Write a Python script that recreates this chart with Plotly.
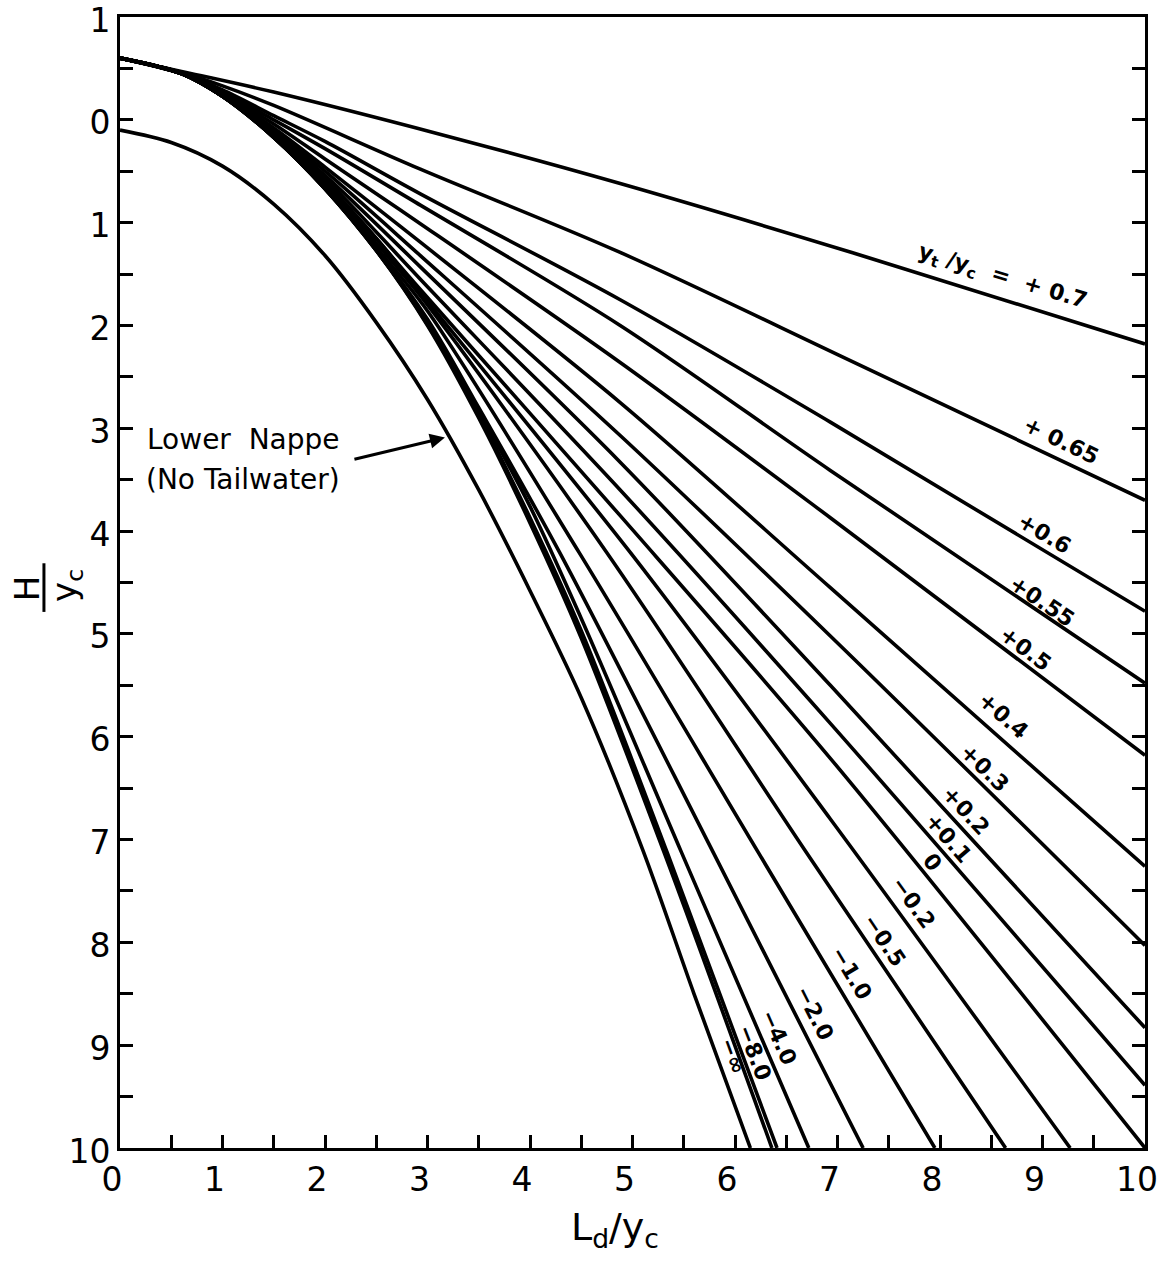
import plotly.graph_objects as go

# ---------------- data ----------------
# tailwater curves y_t/y_c (x = L_d/y_c, y = H/y_c, y axis downward)
x_p070 = [0, 0.6, 1.5, 3.12, 4.88, 7.14, 10]
y_p070 = [-0.6, -0.47, -0.27, 0.14, 0.62, 1.29, 2.18]

x_p065 = [0, 0.6, 1.0, 1.5, 2.93, 4.88, 7.12, 10]
y_p065 = [-0.6, -0.46, -0.33, -0.14, 0.48, 1.29, 2.34, 3.70]

x_mid = [0, 0.6, 1.0, 1.5, 2.0, 2.93, 4.88, 6.93, 10]
y_p060 = [-0.6, -0.45, -0.29, -0.04, 0.21, 0.72, 1.75, 2.94, 4.78]
y_p055 = [-0.6, -0.45, -0.27, 0.00, 0.28, 0.83, 2.00, 3.41, 5.48]
y_p050 = [-0.6, -0.45, -0.26, 0.04, 0.38, 1.01, 2.36, 3.87, 6.18]
y_p040 = [-0.6, -0.45, -0.25, 0.08, 0.46, 1.19, 2.75, 4.55, 7.26]
y_p030 = [-0.6, -0.45, -0.24, 0.10, 0.50, 1.32, 3.07, 5.02, 8.03]
y_p020 = [-0.6, -0.45, -0.24, 0.12, 0.54, 1.43, 3.33, 5.50, 8.83]
y_p010 = [-0.6, -0.45, -0.23, 0.13, 0.57, 1.55, 3.60, 5.87, 9.39]
y_000 = [-0.6, -0.45, -0.23, 0.14, 0.60, 1.65, 3.85, 6.21, 10.0]

x_m02 = [0, 0.6, 1.0, 1.5, 2.0, 2.5, 2.93, 4.98, 6.93, 9.27]
y_m02 = [-0.6, -0.45, -0.23, 0.15, 0.62, 1.15, 1.68, 4.21, 6.80, 10]

x_m05 = [0, 0.6, 1.0, 1.5, 2.0, 2.5, 2.93, 4.75, 6.70, 8.64]
y_m05 = [-0.6, -0.45, -0.23, 0.16, 0.64, 1.20, 1.71, 4.21, 7.13, 10]

x_m10 = [0, 0.6, 1.0, 1.5, 2.0, 2.5, 3.0, 4.48, 6.23, 7.95]
y_m10 = [-0.6, -0.45, -0.23, 0.17, 0.66, 1.24, 1.86, 4.21, 7.13, 10]

x_m20 = [0, 0.6, 1.0, 1.5, 2.0, 2.5, 3.0, 3.5, 4.29, 5.79, 7.25]
y_m20 = [-0.6, -0.45, -0.23, 0.17, 0.67, 1.26, 1.94, 2.80, 4.21, 7.13, 10]

x_m40 = [0, 0.6, 1.0, 1.5, 2.0, 2.5, 3.0, 3.5, 4.0, 4.5, 5.48, 6.72]
y_m40 = [-0.6, -0.45, -0.23, 0.17, 0.67, 1.27, 1.97, 2.83, 3.76, 4.85, 7.13, 10]

x_m80 = [0, 0.6, 1.0, 1.5, 2.0, 2.5, 3.0, 3.5, 4.0, 4.5, 5.34, 6.41]
y_m80 = [-0.6, -0.45, -0.23, 0.17, 0.67, 1.27, 1.99, 2.87, 3.87, 4.97, 7.13, 10]

x_minf = [0, 0.6, 1.0, 1.5, 2.0, 2.5, 3.0, 3.5, 4.0, 4.5, 5.31, 6.36]
y_minf = [-0.6, -0.45, -0.23, 0.17, 0.67, 1.27, 2.00, 2.90, 3.92, 5.04, 7.13, 10]

# lower nappe (no tailwater)
x_nappe = [0, 0.5, 1.0, 1.5, 2.0, 2.5, 3.0, 3.5, 4.0, 4.5, 5.1, 5.6, 6.15]
y_nappe = [0.10, 0.22, 0.45, 0.82, 1.32, 1.97, 2.72, 3.60, 4.58, 5.62, 7.10, 8.50, 10]

curves = [
    (x_p070, y_p070), (x_p065, y_p065),
    (x_mid, y_p060), (x_mid, y_p055), (x_mid, y_p050), (x_mid, y_p040),
    (x_mid, y_p030), (x_mid, y_p020), (x_mid, y_p010), (x_mid, y_000),
    (x_m02, y_m02), (x_m05, y_m05), (x_m10, y_m10), (x_m20, y_m20),
    (x_m40, y_m40), (x_m80, y_m80), (x_minf, y_minf), (x_nappe, y_nappe),
]

# curve labels: text, x, y, angle
curve_labels = [
    ("y<sub>t</sub> /y<sub>c</sub>  =  + 0.7", 8.61, 1.53, 17),
    ("+ 0.65", 9.18, 3.12, 26),
    ("+0.6", 9.02, 4.02, 31),
    ("+0.55", 9.00, 4.68, 34),
    ("+0.5", 8.83, 5.14, 37),
    ("+0.4", 8.62, 5.79, 41),
    ("+0.3", 8.43, 6.30, 44),
    ("+0.2", 8.25, 6.72, 47),
    ("+0.1", 8.08, 6.98, 49),
    ("0", 7.93, 7.22, 51),
    ("\u22120.2", 7.74, 7.61, 54),
    ("\u22120.5", 7.46, 7.98, 56),
    ("\u22121.0", 7.14, 8.30, 59),
    ("\u22122.0", 6.78, 8.69, 63),
    ("\u22124.0", 6.42, 8.92, 66),
    ("\u22128.0", 6.19, 9.07, 69),
    ("\u2212\u221e", 5.98, 9.11, 70),
]

x_tick_vals = [i * 0.5 for i in range(21)]
x_tick_text = [str(int(v)) if v == int(v) else "" for v in x_tick_vals]
y_tick_vals = [-1 + i * 0.5 for i in range(23)]
y_tick_text = [str(abs(int(v))) if v == int(v) else "" for v in y_tick_vals]

# ---------------- figure ----------------
FONT = "DejaVu Sans"
fig = go.Figure()
for xs, ys in curves:
    fig.add_trace(go.Scatter(x=xs, y=ys, mode="lines",
                             line=dict(color="black", width=3.6, shape="spline", smoothing=0.9),
                             showlegend=False, hoverinfo="skip"))

annotations = []
for txt, ax_, ay_, ang in curve_labels:
    annotations.append(dict(x=ax_, y=ay_, xref="x", yref="y", text=txt, showarrow=False,
                            xanchor="center", yanchor="middle", textangle=ang,
                            font=dict(family=FONT, size=22, color="black", weight="bold")))

# lower nappe text and arrow
annotations.append(dict(x=0.24, y=3.11, xref="x", yref="y", text="Lower\u00a0\u00a0Nappe",
                        showarrow=False, xanchor="left", yanchor="middle",
                        font=dict(family=FONT, size=28, color="black")))
annotations.append(dict(x=0.23, y=3.50, xref="x", yref="y", text="(No Tailwater)",
                        showarrow=False, xanchor="left", yanchor="middle",
                        font=dict(family=FONT, size=28, color="black")))
annotations.append(dict(x=3.17, y=3.09, xref="x", yref="y", text="", showarrow=True,
                        ax=-92, ay=22, arrowhead=2, arrowsize=1.0, arrowwidth=3,
                        arrowcolor="black", standoff=0))

# axis titles
annotations.append(dict(x=0.483, y=-0.072, xref="paper", yref="paper",
                        text="L<sub>d</sub>/y<sub>c</sub>", showarrow=False,
                        xanchor="center", yanchor="middle",
                        font=dict(family=FONT, size=38, color="black")))
annotations.append(dict(x=-0.0907, y=0.495, xref="paper", yref="paper", text="H",
                        showarrow=False, textangle=-90, xanchor="center", yanchor="middle",
                        font=dict(family=FONT, size=34, color="black")))
annotations.append(dict(x=-0.0517, y=0.497, xref="paper", yref="paper", text="y<sub>c</sub>",
                        showarrow=False, textangle=-90, xanchor="center", yanchor="middle",
                        font=dict(family=FONT, size=34, color="black")))

shapes = [dict(type="line", xref="paper", yref="paper", x0=-0.0742, x1=-0.0742,
               y0=0.474, y1=0.517, line=dict(color="black", width=3))]

axis_common = dict(showgrid=False, zeroline=False, showline=True, linecolor="black",
                   linewidth=3, ticks="inside", ticklen=13, tickwidth=3, tickcolor="black",
                   ticklabeloverflow="allow", automargin=False,
                   tickfont=dict(family=FONT, size=33, color="black"))

fig.update_layout(
    width=1163, height=1263,
    margin=dict(l=120, r=18, t=17, b=115, autoexpand=False),
    paper_bgcolor="white", plot_bgcolor="white",
    xaxis=dict(range=[0, 10], tickmode="array", tickvals=x_tick_vals, ticktext=x_tick_text,
               mirror=True, ticklabelshift=-8, **axis_common),
    yaxis=dict(range=[10, -1], tickmode="array", tickvals=y_tick_vals, ticktext=y_tick_text,
               mirror="ticks", ticklabelshift=-3, **axis_common),
    annotations=annotations,
    shapes=shapes,
)

# remove the default page margin so the figure sits at the window's top-left corner
fig.write_html("out.html", config={"displayModeBar": False},
               post_script="document.body.style.margin='0';")
